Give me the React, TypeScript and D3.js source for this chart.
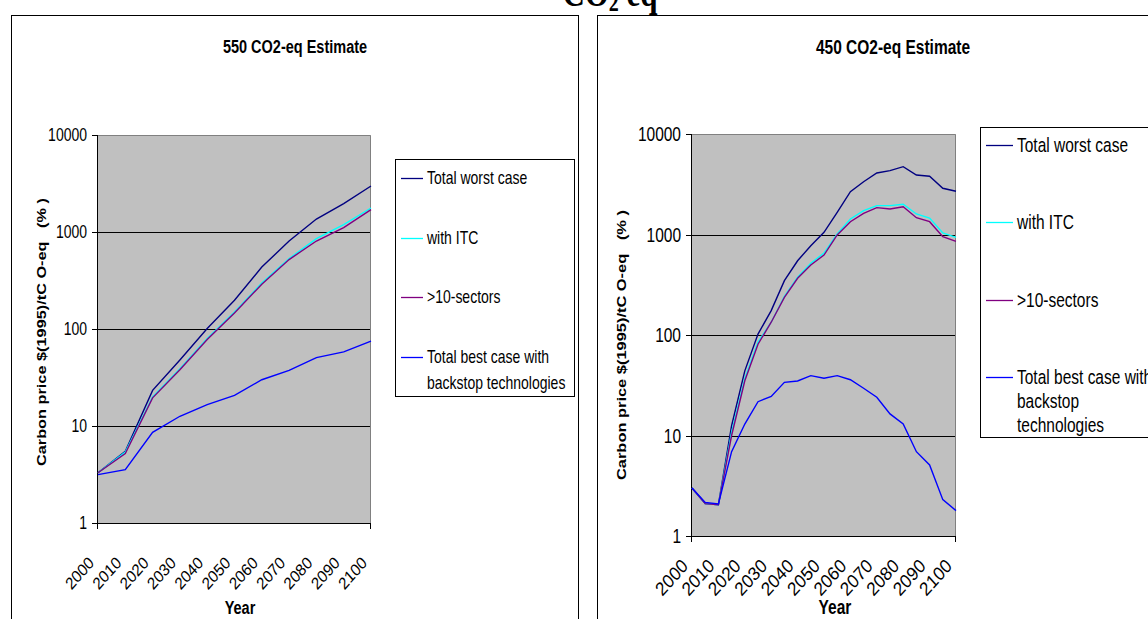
import React from 'react';
import * as d3 from 'd3';

// series names / colours
const seriesNames = ['Total worst case', 'with ITC', '>10-sectors', 'Total best case with backstop technologies'];
const seriesColors = ['#000080', '#00FFFF', '#800080', '#0000FF'];

// 550 CO2-eq estimate (10-year steps)
const years550 = [2000, 2010, 2020, 2030, 2040, 2050, 2060, 2070, 2080, 2090, 2100];
const worst550 = [3.3, 5.5, 23.3, 48, 101, 198, 435, 807, 1361, 1963, 2980];
const itc550 = [3.3, 5.4, 19.9, 39, 80, 150, 298, 532, 855, 1192, 1767];
const sectors550 = [3.3, 5.2, 19.5, 38, 78, 146, 290, 520, 807, 1110, 1702];
const best550 = [3.15, 3.55, 8.6, 12.6, 16.6, 20.7, 30, 37.5, 50.7, 58, 75];

// 450 CO2-eq estimate (5-year steps)
const years450 = [2000, 2005, 2010, 2015, 2020, 2025, 2030, 2035, 2040, 2045, 2050,
  2055, 2060, 2065, 2070, 2075, 2080, 2085, 2090, 2095, 2100];
const worst450 = [3.0, 2.1, 2.05, 12.5, 44, 102, 175, 347, 548, 774, 1052,
  1663, 2668, 3350, 4090, 4317, 4729, 3909, 3795, 2884, 2692];
const itc450 = [3.0, 2.1, 2.05, 10.8, 37, 85, 134, 243, 375, 517, 654,
  1012, 1426, 1726, 1936, 1936, 2000, 1600, 1459, 1035, 938];
const sectors450 = [3.0, 2.1, 2.05, 10, 35, 81, 134, 237, 367, 497, 625,
  989, 1341, 1625, 1849, 1793, 1891, 1469, 1341, 951, 855];
const best450 = [3.0, 2.16, 2.08, 6.9, 13.0, 21.7, 24.5, 33.8, 34.9, 39.4, 37.1,
  39.4, 35.9, 29.5, 24, 16.4, 13, 6.9, 5.1, 2.3, 1.79];

const yTicks = [1, 10, 100, 1000, 10000];
const xLabels = ['2000', '2010', '2020', '2030', '2040', '2050', '2060', '2070', '2080', '2090', '2100'];

const FONT = 'Liberation Sans, Arial, sans-serif';
const SY = 1.28; // the picture is stretched a little vertically

function T({ x, y, size, anchor = 'start', bold = false, children, sy = SY }: any) {
  return (
    <text
      transform={`translate(${x},${y}) scale(1,${sy})`}
      fontFamily={FONT}
      fontSize={size}
      fontWeight={bold ? 'bold' : 'normal'}
      textAnchor={anchor}
      fill="#000"
    >
      {children}
    </text>
  );
}

function Panel({ cfg }: any) {
  const { years, series, plot, legend, title, ytitle, yearX, labelEvery, fs, labelFs } = cfg;
  const x = d3.scalePoint<number>().domain(years).range([plot.x0, plot.x1]);
  const y = d3.scaleLog().domain([1, 10000]).range([plot.y1, plot.y0]);
  const line = d3
    .line<number>()
    .x((d, i) => x(years[i]) as number)
    .y((d) => y(d));

  return (
    <g>
      {/* plot background */}
      <rect x={plot.x0} y={plot.y0} width={plot.x1 - plot.x0} height={plot.y1 - plot.y0} fill="#C0C0C0" />
      {yTicks.slice(1, 4).map((t) => (
        <line key={t} x1={plot.x0} x2={plot.x1} y1={Math.round(y(t)) + 0.5} y2={Math.round(y(t)) + 0.5} stroke="#000" />
      ))}
      <path
        d={`M${plot.x0},${plot.y0 + 0.5}H${plot.x1 - 0.5}V${plot.y1}`}
        fill="none"
        stroke="#808080"
      />
      {/* axes */}
      <line x1={plot.x0 - 0.5} x2={plot.x0 - 0.5} y1={plot.y0} y2={plot.y1} stroke="#000" />
      <line x1={plot.x0} x2={plot.x1} y1={plot.y1 + 0.5} y2={plot.y1 + 0.5} stroke="#000" />
      {yTicks.map((t) => (
        <g key={t}>
          <line x1={plot.x0 - 6} x2={plot.x0} y1={Math.round(y(t)) + 0.5} y2={Math.round(y(t)) + 0.5} stroke="#000" />
          <T x={plot.x0 - 11} y={y(t) + fs * 0.36 * SY} size={fs} anchor="end">{t}</T>
        </g>
      ))}
      {[plot.x0, plot.x1].map((tx) => (
        <line key={tx} x1={tx - 0.5} x2={tx - 0.5} y1={plot.y1} y2={plot.y1 + 6} stroke="#000" />
      ))}
      {xLabels.map((lab, i) => {
        const tx = x(years[i * labelEvery]) as number;
        return (
          <text
            key={lab}
            transform={`translate(${tx - 3},${cfg.labelY}) scale(1,1.12) rotate(-45)`}
            fontFamily={FONT}
            fontSize={labelFs}
            textAnchor="end"
          >
            {lab}
          </text>
        );
      })}

      {/* series */}
      {series.map((s: number[], i: number) => (
        <path key={i} d={line(s) as string} fill="none" stroke={seriesColors[i]} strokeWidth={1.4} />
      ))}

      {/* titles */}
      <T x={title.x} y={title.y} size={title.size} anchor="middle" bold>{title.text}</T>
      <T x={yearX} y={614} size={title.size} anchor="middle" bold>Year</T>
      <text
        transform={`translate(${ytitle.x},${ytitle.y}) rotate(-90)`}
        fontFamily={FONT}
        fontSize={13}
        fontWeight="bold"
        textAnchor="middle"
        textLength={ytitle.len}
        lengthAdjust="spacingAndGlyphs"
        style={{ whiteSpace: 'pre' }}
      >
        {'Carbon price $(1995)/tC O-eq   (% )'}
      </text>

      {/* legend */}
      <rect x={legend.x0} y={legend.y0} width={legend.w} height={legend.h} fill="#fff" stroke="#000" />
      {legend.rows.map((r: any, i: number) => (
        <g key={i}>
          <line x1={legend.lx0} x2={legend.lx1} y1={Math.round(r.y) + 0.5} y2={Math.round(r.y) + 0.5} stroke={seriesColors[i]} strokeWidth={1.3} />
          {r.lines.map((t: string, j: number) => (
            <T key={j} x={legend.tx} y={r.y + j * legend.lh + fs * 0.36 * SY} size={legend.fs}>{t}</T>
          ))}
        </g>
      ))}
    </g>
  );
}

export default function App() {
  const left = {
    years: years550,
    series: [worst550, itc550, sectors550, best550],
    plot: { x0: 98, x1: 371, y0: 135, y1: 523 },
    legend: {
      x0: 395.5, y0: 159.5, w: 179, h: 237, lx0: 401, lx1: 423, tx: 427, fs: 14, lh: 26,
      rows: [
        { y: 178, lines: [seriesNames[0]] },
        { y: 238, lines: [seriesNames[1]] },
        { y: 297, lines: [seriesNames[2]] },
        { y: 357, lines: ['Total best case with', 'backstop technologies'] },
      ],
    },
    title: { x: 295, y: 53, size: 14.5, text: '550 CO2-eq Estimate' },
    ytitle: { x: 46, y: 332, len: 268 },
    yearX: 240,
    labelEvery: 1,
    labelY: 564,
    fs: 14,
    labelFs: 15,
  };
  const right = {
    years: years450,
    series: [worst450, itc450, sectors450, best450],
    plot: { x0: 692, x1: 956, y0: 134, y1: 536 },
    legend: {
      x0: 980.5, y0: 127.5, w: 240, h: 310, lx0: 986, lx1: 1013, tx: 1017, fs: 15.5, lh: 24,
      rows: [
        { y: 145, lines: [seriesNames[0]] },
        { y: 222, lines: [seriesNames[1]] },
        { y: 300, lines: [seriesNames[2]] },
        { y: 377, lines: ['Total best case with', 'backstop', 'technologies'] },
      ],
    },
    title: { x: 893, y: 54, size: 15.5, text: '450 CO2-eq Estimate' },
    ytitle: { x: 626, y: 345, len: 270 },
    yearX: 835,
    labelEvery: 2,
    labelY: 567,
    fs: 15.5,
    labelFs: 17,
  };

  return (
    <svg
      width={1148}
      height={619}
      style={{ position: 'absolute', left: 0, top: 0, display: 'block', background: '#fff' }}
    >
      {/* figure heading, mostly cut off at the top */}
      <text
        transform={`translate(610,6) scale(1,${SY})`}
        fontFamily="Liberation Serif, Times New Roman, serif"
        fontSize={31}
        fontWeight="bold"
        textAnchor="middle"
      >
        CO<tspan fontSize={20} dy={4}>2</tspan><tspan dy={-4}> eq</tspan>
      </text>
      <rect x={11.5} y={15.5} width={567} height={620} fill="none" stroke="#000" />
      <rect x={597.5} y={15.5} width={620} height={620} fill="none" stroke="#000" />
      <Panel cfg={left} />
      <Panel cfg={right} />
    </svg>
  );
}
